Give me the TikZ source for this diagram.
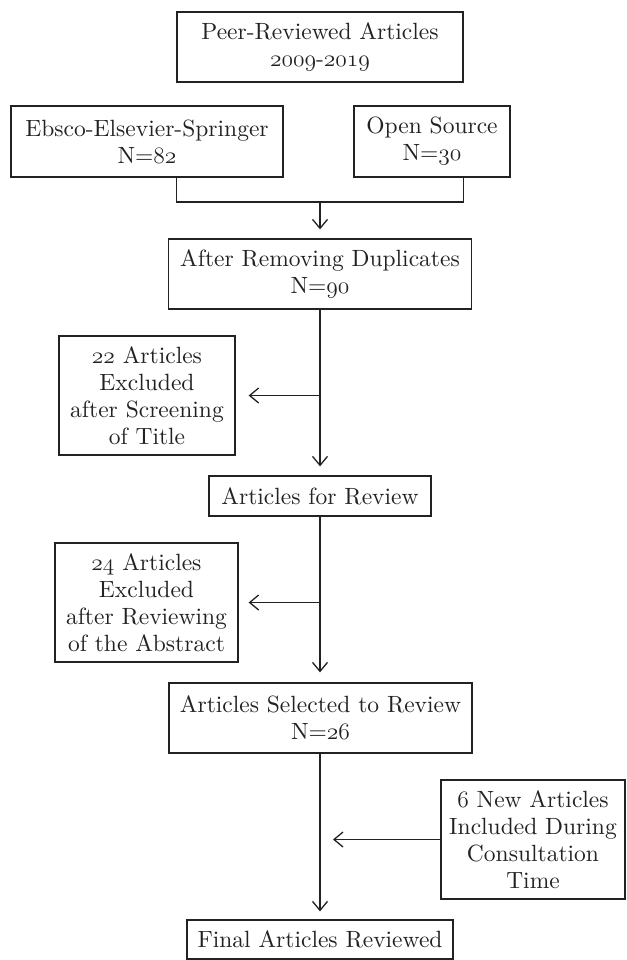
\RequirePackage{fix-cm}
\documentclass[tikz,border=0pt]{standalone}
\usetikzlibrary{arrows.meta}
\definecolor{ink}{HTML}{222222}
\DeclareFontFamily{TU}{lmrten}{}
\DeclareFontShape{TU}{lmrten}{m}{n}{<-> "[lmroman10-regular]:mapping=tex-text;"}{}
\newcommand{\osn}[1]{{\fontencoding{OML}\fontfamily{cmm}\fontseries{m}\fontshape{it}\selectfont #1}}
\begin{document}
\begin{tikzpicture}[x=1pt,y=-1pt,
  box/.style={draw=ink, line width=1.3pt, align=center, inner sep=0pt, text=ink,
    font=\fontfamily{lmrten}\fontsize{23.5}{27}\selectfont},
  arr/.style={draw=ink, line width=1.3pt, -{Straight Barb[length=9pt,width=15pt,line width=1.3pt]}},
  link/.style={draw=ink, line width=1.3pt}]
\useasboundingbox[fill=white] (0,0) rectangle (626,960);
\node[box, minimum width=286pt, minimum height=70pt] (top) at (320,47)
  {Peer-Reviewed Articles\\\osn{2009}-\osn{2019}};
\node[box, minimum width=272pt, minimum height=71pt] (ebsco) at (147,141.5)
  {Ebsco-Elsevier-Springer\\N=\osn{82}};
\node[box, minimum width=156pt, minimum height=71pt] (open) at (432,141.5)
  {Open Source\\N=\osn{30}};
\node[box, minimum width=303pt, minimum height=70pt] (dup) at (320,274)
  {After Removing Duplicates\\N=\osn{90}};
\node[box, minimum width=176pt, minimum height=119pt] (ex1) at (147,395.5)
  {\osn{22} Articles\\Excluded\\after Screening\\of Title};
\node[box, minimum width=222pt, minimum height=40pt] (afr) at (320,496)
  {Articles for Review};
\node[box, minimum width=183pt, minimum height=119pt] (ex2) at (146.5,602.5)
  {\osn{24} Articles\\Excluded\\after Reviewing\\of the Abstract};
\node[box, minimum width=303pt, minimum height=70pt] (sel) at (320.5,718)
  {Articles Selected to Review\\N=\osn{26}};
\node[box, minimum width=184pt, minimum height=119pt] (new) at (533,839.5)
  {\osn{6} New Articles\\Included During\\Consultation\\Time};
\node[box, minimum width=266pt, minimum height=39pt] (final) at (320,939.5)
  {Final Articles Reviewed};
\coordinate (m) at (320,202);
\draw[link] (ebsco.south -| top.west) |- (m) -| (open.south -| top.east);
\draw[arr, shorten >=9pt] (m) -- (dup.north);
\draw[arr, shorten >=9pt] (dup.south) -- (afr.north);
\draw[arr, shorten >=13pt] (dup.south |- ex1.east) -- (ex1.east);
\draw[arr, shorten >=10pt] (afr.south) -- (sel.north -| afr.south);
\draw[arr, shorten >=10pt] (afr.south |- ex2.east) -- (ex2.east);
\draw[arr, shorten >=8pt] (sel.south -| afr.south) -- (final.north);
\draw[arr, shorten >=13pt] (new.west) -- (new.west -| afr.south);
\end{tikzpicture}
\end{document}
